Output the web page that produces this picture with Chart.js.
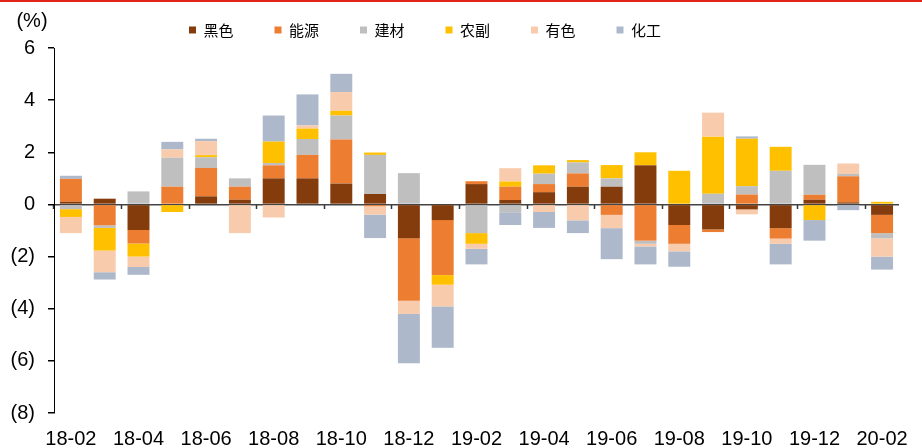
<!DOCTYPE html>
<html>
<head>
<meta charset="utf-8">
<script src="https://cdn.jsdelivr.net/npm/chart.js@4"></script>
<style>
  body { margin: 0; background: #fff; }
  #wrap { width: 922px; height: 448px; }
</style>
</head>
<body>
<div id="wrap"><canvas id="barchart" width="922" height="448"></canvas></div>
<script>
const months = ["18-02", "18-03", "18-04", "18-05", "18-06", "18-07", "18-08", "18-09", "18-10", "18-11", "18-12",
    "19-01", "19-02", "19-03", "19-04", "19-05", "19-06", "19-07", "19-08", "19-09", "19-10", "19-11", "19-12",
    "20-01", "20-02"]
const seriesNames = ["黑色", "能源", "建材", "农副", "有色", "化工"]
const ferrous = [0.1, 0.22, -0.98, 0, 0.31, 0.18, 1.0, 1.0, 0.8, 0.4, -1.3, -0.6, 0.78, 0.17, 0.47, 0.68, 0.68, 1.5, -0.79, -0.96, -0.19, -0.91, 0.18, 0.08, -0.4]
const energy = [0.88, -0.8, -0.52, 0.68, 1.09, 0.5, 0.5, 0.9, 1.69, -0.07, -2.39, -2.11, 0.11, 0.51, 0.31, 0.51, -0.4, -1.39, -0.72, -0.1, 0.38, -0.4, 0.19, 1.0, -0.7]
const building = [-0.18, -0.1, 0.5, 1.11, 0.41, 0.32, 0.09, 0.61, 0.92, 1.5, 1.2, 0, -1.1, -0.3, 0.4, 0.42, 0.32, -0.12, 0, 0.41, 0.32, 1.29, 1.15, 0.09, -0.2]
const agri = [-0.3, -0.87, -0.5, -0.29, 0.08, 0, 0.82, 0.4, 0.18, 0.09, 0, -0.37, -0.41, 0.2, 0.32, 0.09, 0.51, 0.5, 1.29, 2.19, 1.82, 0.92, -0.6, 0, 0.1]
const nonferrous = [-0.62, -0.83, -0.4, 0.32, 0.54, -1.1, -0.5, 0.12, 0.72, -0.32, -0.51, -0.83, -0.19, 0.51, -0.29, -0.61, -0.51, -0.1, -0.29, 0.92, -0.19, -0.2, 0, 0.4, -0.7]
const chemical = [0.12, -0.28, -0.3, 0.29, 0.09, 0, 1.0, 1.19, 0.7, -0.9, -1.89, -1.59, -0.6, -0.49, -0.61, -0.49, -1.19, -0.69, -0.59, 0, 0.09, -0.79, -0.79, -0.22, -0.5]
const colors = ["#843C0C", "#ED7D31", "#BFBFBF", "#FFC000", "#F8CBAD", "#ADB9CA"]
const yTicks = [-8, -6, -4, -2, 0, 2, 4, 6]

const values = [ferrous, energy, building, agri, nonferrous, chemical]

const extras = {
    id: 'extras',
    afterLayout(chart) {
        // move the legend left and up to where the reference has it
        const lg = chart.legend
        lg.left -= 27; lg.right -= 27
        lg.top -= 18.5
    },
    beforeDraw(chart) {
        const ctx = chart.ctx
        ctx.save()
        ctx.fillStyle = '#E3231A'
        ctx.fillRect(0, 0, chart.width, 2)
        ctx.restore()
    },
    afterDraw(chart) {
        const ctx = chart.ctx
        ctx.save()
        ctx.font = '20px "Liberation Sans", Arial, sans-serif'
        ctx.fillStyle = '#000'
        ctx.textAlign = 'center'
        ctx.textBaseline = 'middle'
        ctx.fillText('(%)', 32, 21)
        ctx.restore()
    }
}

setupChart()
function setupChart(){

    return new Chart(document.getElementById("barchart").getContext('2d'), {
    type: 'bar',
    data: {
        labels: months,
        datasets: seriesNames.map((name, i) => ({
            label: name,
            backgroundColor: colors[i],
            borderWidth: 0,
            data: values[i],
            barPercentage: 0.65,
            categoryPercentage: 1.0
        }))
    },
    plugins: [extras],
    options: {
        responsive: false,
        animation: false,
        layout: { padding: { left: 0, right: 18, top: 0, bottom: 0 } },
        plugins: {
            tooltip: { enabled: false },
            legend: {
                display: true,
                position: 'top',
                maxHeight: 48,
                labels: {
                    boxWidth: 7,
                    boxHeight: 7,
                    padding: 41,
                    color: '#000',
                    font: { family: '"Noto Sans CJK SC"', size: 15 }
                }
            }
        },
        scales: {
            x: {
                stacked: true,
                offset: true,
                grid: { display: false, drawTicks: false },
                border: { display: false },
                ticks: {
                    autoSkip: false,
                    maxRotation: 0,
                    padding: 14,
                    color: '#000',
                    font: { family: '"Liberation Sans"', size: 20 },
                    callback: function (v, i) { return i % 2 === 0 ? this.getLabelForValue(v) : '' }
                },
                afterFit: s => { s.height = 35 }
            },
            x2: {
                type: 'category',
                position: { y: 0 },
                offset: true,
                border: { display: false },
                ticks: { display: false },
                grid: {
                    offset: true,
                    drawOnChartArea: false,
                    drawTicks: true,
                    tickLength: 5,
                    tickWidth: 1.5,
                    tickColor: c => c.index % 2 === 0 ? '#333' : 'rgba(0,0,0,0)'
                }
            },
            y: {
                stacked: true,
                min: -8,
                max: 6,
                afterBuildTicks: s => { s.ticks = yTicks.map(v => ({ value: v })) },
                border: { display: true, color: '#000', width: 1 },
                grid: {
                    drawTicks: true,
                    tickLength: 6,
                    tickColor: '#000',
                    lineWidth: 1.5,
                    color: c => c.tick && c.tick.value === 0 ? '#444' : 'rgba(0,0,0,0)'
                },
                ticks: {
                    padding: 13,
                    color: '#000',
                    font: { family: '"Liberation Sans"', size: 20 },
                    callback: v => v < 0 ? '(' + Math.abs(v) + ')' : String(v)
                },
                afterFit: s => { s.width = 54 }
            }
        }
    }
});

}
</script>
</body>
</html>
